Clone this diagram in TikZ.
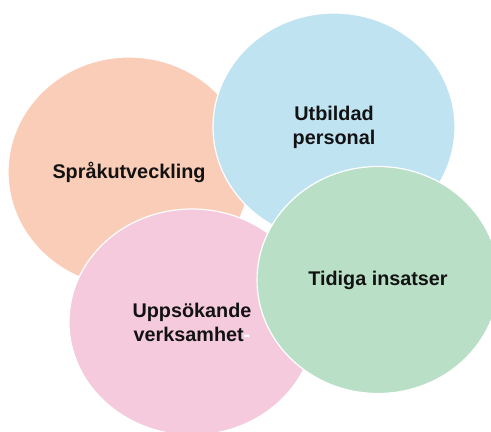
\documentclass[tikz,border=0pt]{standalone}
\usepackage{fontspec}
\setmainfont{Liberation Sans}
\usepackage{tikz}
\usetikzlibrary{shapes.geometric}
\definecolor{peach}{HTML}{FACDB8}
\definecolor{skyblue}{HTML}{C0E3F2}
\definecolor{rosepink}{HTML}{F5CADC}
\definecolor{mintgreen}{HTML}{B9E0C7}
\tikzset{
	bubble/.style={
		ellipse, draw=white, line width=0.6pt,
		minimum width=242*0.5pt, minimum height=228*0.5pt,
		inner sep=0pt, align=center, text=black!93,
		font=\fontsize{9.9}{12}\selectfont\bfseries
	}
}

\begin{document}
\begin{tikzpicture}[x=0.5pt, y=-0.5pt]
    \useasboundingbox (0,0) rectangle (491,432);

    \node[bubble, fill=peach, minimum height=230*0.5pt] (sprak) at (129,172) {Språkutveckling};
    \node[bubble, fill=skyblue] (utbildad) at (334,127) {Utbildad\\personal};
    \node[bubble, fill=rosepink, minimum width=246*0.5pt, minimum height=226*0.5pt] (uppsok) at (192,322) {Uppsökande\\verksamhet\textcolor{white}{-}};
    \node[bubble, fill=mintgreen, minimum height=227*0.5pt] (tidiga) at (378,280) {Tidiga insatser};
\end{tikzpicture}
\end{document}
